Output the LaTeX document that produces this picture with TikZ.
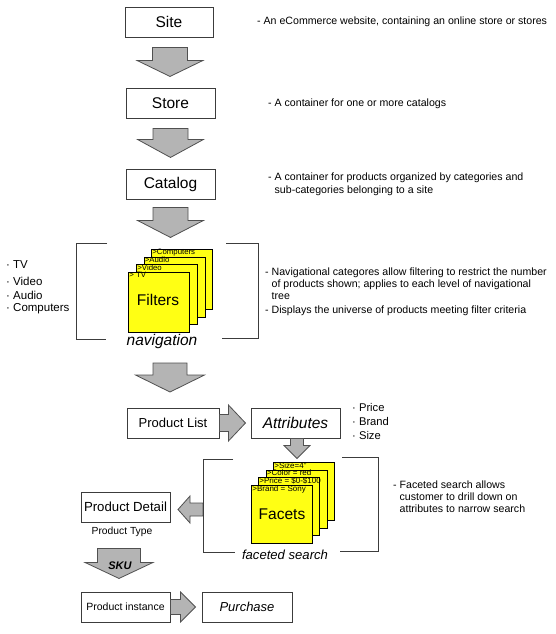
\documentclass[tikz,border=0pt]{standalone}
\usepackage{fontspec}
\setmainfont{Liberation Sans}
\usetikzlibrary{calc}
\definecolor{boxline}{HTML}{3C3C3C}
\definecolor{arrfill}{HTML}{B4B4B4}
\definecolor{arrline}{HTML}{505050}
\definecolor{cardyel}{HTML}{FFFF14}
\newcommand\blkdown[5]{\draw[blk] (#1) ++(-#3,0) -- ++(2*#3,0) -- ++(0,#2) -- ++(#4-#3,0) -- ++(-#4,#5) -- ++(-#4,-#5) -- ++(#4-#3,0) -- cycle;}
\newcommand\blkright[5]{\draw[blk] (#1) ++(0,-#3) -- ++(#2,0) -- ++(0,#3-#4) -- ++(#5,#4) -- ++(-#5,#4) -- ++(0,#3-#4) -- ++(-#2,0) -- cycle;}
\newcommand\blkleft[5]{\draw[blk] (#1) ++(0,-#3) -- ++(-#2,0) -- ++(0,#3-#4) -- ++(-#5,#4) -- ++(#5,#4) -- ++(0,#3-#4) -- ++(#2,0) -- cycle;}
\newcommand\ycard[6]{% name, x, y, height, label, label font size
  \node[ycardbox, minimum height=#4, anchor=north west] (#1) at (#2,#3) {};
  \node[cardlbl, anchor=north west, font=\fontsize{#6}{#6}\selectfont] (#1-l) at (#1.north west) {#5};}
\begin{document}
\begin{tikzpicture}[x=1pt,y=-1pt,
  mainbox/.style={draw=boxline, line width=0.9pt, fill=white, minimum height=30, inner sep=0pt},
  blk/.style={draw=arrline, line width=0.8pt, fill=arrfill, line join=miter},
  brk/.style={draw=boxline, line width=0.9pt},
  ycardbox/.style={draw=black, line width=0.9pt, fill=cardyel, minimum width=61, inner sep=0pt},
  cardlbl/.style={inner xsep=1.2pt, inner ysep=0.3pt},
  note/.style={font=\fontsize{10.6}{12}\selectfont, align=left, inner sep=0pt},
  bul/.style={font=\fontsize{11.5}{12}\selectfont, anchor=west, inner sep=0pt},
  big/.style={font=\fontsize{15.5}{16}\selectfont, inner sep=0pt},
]
\useasboundingbox (0,0) rectangle (555,634);
\fill[white] (0,0) rectangle (555,634);

% main boxes
\node[mainbox, minimum width=88, font=\fontsize{15.5}{16}\selectfont] (site) at (169,22) {Site};
\node[mainbox, minimum width=89, font=\fontsize{15.5}{16}\selectfont] (store) at (170.5,103) {Store};
\node[mainbox, minimum width=89, font=\fontsize{15.5}{16}\selectfont] (catalog) at (170.5,184) {Catalog};
\node[mainbox, minimum width=92, font=\fontsize{13}{14}\selectfont] (plist) at (173,423) {Product List};
\node[mainbox, minimum width=89, font=\fontsize{15.5}{16}\selectfont\itshape] (attr) at (295.5,423) {Attributes};
\node[mainbox, minimum width=89, font=\fontsize{13.2}{14}\selectfont] (pdetail) at (125.5,507) {Product Detail};
\node[font=\fontsize{10.3}{11}\selectfont, inner sep=0pt] (ptype) at (122,532) {Product Type};
\node[mainbox, minimum width=89, font=\fontsize{10.5}{11}\selectfont] (pinst) at (125.5,607) {Product instance};
\node[mainbox, minimum width=90, font=\fontsize{13}{14}\selectfont\itshape] (purchase) at (247,607) {Purchase};

% block arrows
\blkdown{$(site.south)+(1,10)$}{13}{17.5}{33}{16}
\blkdown{$(store.south)+(0,10)$}{11}{17.5}{33}{18}
\blkdown{$(catalog.south)+(0,8)$}{13}{17.5}{33}{17}
\coordinate (navout) at (170,363);
\blkdown{navout}{12}{17}{34.5}{17}
\blkdown{$(attr.south)+(1.5,0)$}{7}{6.5}{13}{13}
\blkright{plist.east}{9}{8.5}{18}{17}
\blkright{pinst.east}{10}{7.5}{15}{15}
\coordinate (facout) at (203,509.5);
\blkleft{facout}{13}{6.5}{13.5}{12}
\blkdown{$(pdetail.south)+(-6.5,26)$}{14}{21.5}{34}{16}
\node[font=\fontsize{11}{12}\selectfont\bfseries\itshape, inner sep=0pt] (sku) at (120,566) {SKU};

% navigation group
\draw[brk] (107,243) -- (76,243) -- (76,339) -- (106,339);
\draw[brk] (226,243) -- (258,243) -- (258,338) -- (222,338);
\ycard{c4}{151}{249}{60}{>Computers}{7.8}
\ycard{c3}{143.5}{256.5}{60}{>Audio}{7.8}
\ycard{c2}{136}{264}{60}{>Video}{7.8}
\ycard{c1}{128}{272}{60}{> TV}{7.8}
\node[big] (filters) at (158,300) {Filters};
\node[big, font=\fontsize{15.5}{16}\selectfont\itshape] (navlbl) at (162,341) {navigation};
\node[bul] (b1) at (6,265) {· TV};
\node[bul] (b2) at (6,281) {· Video};
\node[bul] (b3) at (6,295) {· Audio};
\node[bul] (b4) at (6,309) {· Computers};

% facets group
\draw[brk] (233,459) -- (203,459) -- (203,552) -- (235,552);
\draw[brk] (342,457) -- (378,457) -- (378,551) -- (340,551);
\ycard{f4}{273}{462}{58}{>Size=4"}{8}
\ycard{f3}{265.5}{469.5}{58}{>Color = red}{8}
\ycard{f2}{258}{477}{58}{>Price = \$0-\$100}{8}
\ycard{f1}{251}{485}{58}{>Brand = Sony}{8}
\node[big] (facets) at (282,514) {Facets};
\node[font=\fontsize{13.1}{14}\selectfont\itshape, inner sep=0pt] (faclbl) at (285,555) {faceted search};
\node[bul, font=\fontsize{11.2}{12}\selectfont] (a1) at (352,407) {· Price};
\node[bul, font=\fontsize{11.2}{12}\selectfont] (a2) at (352,421) {· Brand};
\node[bul, font=\fontsize{11.2}{12}\selectfont] (a3) at (352,435) {· Size};

% notes
\node[note, anchor=west] (n1) at (257,22) {- An eCommerce website, containing an online store or stores};
\node[note, anchor=west] (n2) at (268,104) {- A container for one or more catalogs};
\node[note, anchor=north west, font=\fontsize{10.6}{13}\selectfont] (n3) at (268,173) {- A container for products organized by categories and\\\phantom{- }sub-categories belonging to a site};
\node[note, anchor=north west, font=\fontsize{10.6}{11.6}\selectfont] (n4) at (265,268) {- Navigational categores allow filtering to restrict the number\\\phantom{- }of products shown; applies to each level of navigational\\\phantom{- }tree};
\node[note, anchor=west] (n5) at (265,311) {- Displays the universe of products meeting filter criteria};
\node[note, anchor=north west, font=\fontsize{10.6}{11.6}\selectfont] (n6) at (393,481) {- Faceted search allows\\\phantom{- }customer to drill down on\\\phantom{- }attributes to narrow search};
\end{tikzpicture}
\end{document}
